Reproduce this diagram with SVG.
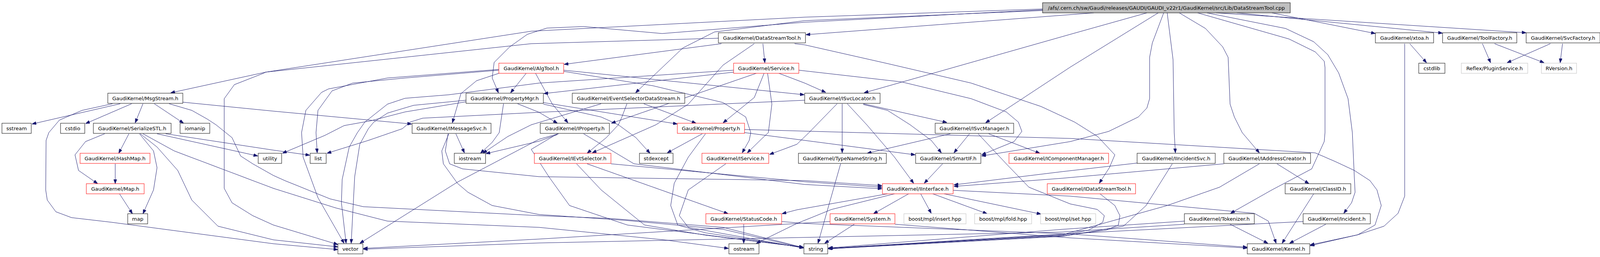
<svg xmlns="http://www.w3.org/2000/svg" width="4097" height="659" viewBox="0 0 4097 659">
<style>
.e{fill:none;stroke:#191970;stroke-width:1;marker-end:url(#ah)}
rect{fill:#fff;stroke:#000;stroke-width:1}
.r rect{stroke:#f00}
.g rect{stroke:#bfbfbf}
.root rect{fill:#bfbfbf}
text{font-family:"DejaVu Sans","Liberation Sans",sans-serif;font-size:13px;text-anchor:middle;fill:#000}
</style>
<defs>
<marker id="ah" markerWidth="11" markerHeight="8" refX="11" refY="4" orient="auto" markerUnits="userSpaceOnUse"><path d="M0,0 L11,4 L0,8 z" fill="#191970" stroke="#191970"/></marker>
</defs>
<rect x="0" y="0" width="4097" height="659" style="fill:#fff;stroke:none"/>
<g id="edges">
<path class="e" d="M2800,33 L2063,89"/>
<path class="e" d="M2936,33 L2740,88 L2212,238"/>
<path class="e" d="M2965,33 L2740,172 L2523,315"/>
<path class="e" d="M2979,33 L2950,110 L2943,147 L2943,253 L2936,277 L2914,300 L2838,337 L2740,363 L2513,400"/>
<path class="e" d="M2988,33 L3003,153 L3006,340 L3009,392"/>
<path class="e" d="M3019,33 L3086,73 L3130,120 L3144,147 L3149,267 L3160,300 L3180,340 L3224,392"/>
<path class="e" d="M3066,33 L3300,100 L3367,133 L3390,157 L3392,173 L3392,340 L3390,363 L3358,433 L3256,487 L3150,547"/>
<path class="e" d="M3090,33 L3291,73 L3363,107 L3399,140 L3427,187 L3451,253 L3462,340 L3467,453 L3469,493 L3460,520 L3440,547"/>
<path class="e" d="M3113,33 L3907,84"/>
<path class="e" d="M3166,33 L3693,85"/>
<path class="e" d="M3256,33 L3521,86"/>
<path class="e" d="M2669,27 L2060,53 L1829,82 L1748,123 L1627,238"/>
<path class="e" d="M2669,25 L2060,57 L1896,70 L1695,86 L1494,68 L1400,72 L1350,88 L1305,120 L1265,160 L1260,200 L1276,238"/>
<path class="e" d="M2669,23 L2060,44 L1360,80 L680,185 L437,238"/>
<path class="e" d="M1839,98 L1360,112 L680,185 L674,188 L600,217 L574,253 L574,483 L594,520 L647,553 L700,577 L733,587 L865,627"/>
<path class="e" d="M1847,112 L1444,165"/>
<path class="e" d="M1953,112 L1958,161"/>
<path class="e" d="M1931,112 L1851,167 L1762,267 L1679,320 L1516,392"/>
<path class="e" d="M2034,112 L2060,115 L2272,163 L2486,213 L2665,273 L2751,313 L2794,340 L2810,350 L2854,397 L2840,430 L2814,470"/>
<path class="e" d="M1277,180 L1037,200 L903,213 L850,233 L814,283 L809,340 L812,392"/>
<path class="e" d="M1277,178 L992,200 L841,228 L823,237 L783,283 L772,340 L776,403 L814,507 L881,624"/>
<path class="e" d="M1277,188 L1220,207 L1180,240 L1158,315"/>
<path class="e" d="M1347,188 L1307,238"/>
<path class="e" d="M1371,188 L1414,267 L1454,315"/>
<path class="e" d="M1443,180 L2059,243"/>
<path class="e" d="M1443,183 L1672,220 L1851,263 L1909,300 L1922,340 L1918,360 L1900,392"/>
<path class="e" d="M1878,185 L1392,240"/>
<path class="e" d="M1878,180 L1380,213 L1149,243 L1037,252 L992,267 L934,313 L915,340 L894,377 L876,460 L874,520 L886,624"/>
<path class="e" d="M1936,188 L1565,316"/>
<path class="e" d="M1956,188 L1931,250 L1851,315"/>
<path class="e" d="M1965,188 L1976,267 L1967,340 L1953,353 L1913,392"/>
<path class="e" d="M1994,188 L2060,213 L2114,237"/>
<path class="e" d="M2045,180 L2308,210 L2486,253 L2576,287 L2607,313 L2616,337 L2596,363 L2513,397"/>
<path class="e" d="M308,266 L82,318"/>
<path class="e" d="M337,266 L219,317"/>
<path class="e" d="M366,266 L346,315"/>
<path class="e" d="M395,266 L470,316"/>
<path class="e" d="M468,262 L700,285 L1054,318"/>
<path class="e" d="M288,266 L210,283 L152,308 L125,340 L118,360 L117,487 L121,513 L143,543 L183,558 L286,570 L700,625 L865,640"/>
<path class="e" d="M433,266 L491,283 L530,305 L553,320 L594,353 L616,400 L647,420 L700,450 L729,463 L845,510 L930,530 L1380,553 L1561,560 L1851,583 L2057,635"/>
<path class="e" d="M268,343 L219,363 L192,397 L201,437 L250,471"/>
<path class="e" d="M330,343 L304,393"/>
<path class="e" d="M357,343 L393,387 L402,430 L393,487 L366,548"/>
<path class="e" d="M359,343 L402,377 L455,437 L491,513 L558,580 L700,615 L865,633"/>
<path class="e" d="M366,343 L446,387 L700,483 L859,533 L992,567 L1380,583 L1700,615 L1865,637"/>
<path class="e" d="M402,343 L660,400"/>
<path class="e" d="M424,343 L700,385 L793,398"/>
<path class="e" d="M295,420 L295,471"/>
<path class="e" d="M306,497 L339,548"/>
<path class="e" d="M1325,266 L1380,288 L1427,316"/>
<path class="e" d="M1391,263 L1734,318"/>
<path class="e" d="M1391,267 L1539,300 L1583,320 L1628,353 L1664,393"/>
<path class="e" d="M1289,266 L1278,340 L1260,365 L1230,393"/>
<path class="e" d="M1193,257 L1059,270 L992,290 L957,313 L943,330 L921,370 L908,453 L899,624"/>
<path class="e" d="M1193,261 L1037,287 L948,310 L881,322 L832,347 L723,393"/>
<path class="e" d="M1539,266 L1360,320 L1300,350 L1236,393"/>
<path class="e" d="M1605,266 L1592,300 L1583,320 L1552,353 L1503,393"/>
<path class="e" d="M1648,266 L1782,316"/>
<path class="e" d="M2143,266 L2071,340 L2040,370 L1970,396"/>
<path class="e" d="M2156,266 L2156,392"/>
<path class="e" d="M2169,266 L2219,320 L2290,403 L2339,470"/>
<path class="e" d="M2210,266 L2424,314"/>
<path class="e" d="M2210,268 L2272,283 L2330,320 L2384,360 L2410,392"/>
<path class="e" d="M2060,257 L1380,288 L1082,303 L1050,313 L1030,330 L943,360 L837,393"/>
<path class="e" d="M2482,343 L2442,392"/>
<path class="e" d="M2531,343 L2662,393"/>
<path class="e" d="M2504,343 L2576,420 L2634,480 L2740,523 L2809,537 L2827,553 L2823,570 L2787,590 L2720,603 L2121,637"/>
<path class="e" d="M2433,343 L2220,393"/>
<path class="e" d="M2413,420 L2366,470"/>
<path class="e" d="M2152,420 L2094,624"/>
<path class="e" d="M2326,497 L2236,548"/>
<path class="e" d="M2357,497 L2384,547"/>
<path class="e" d="M2388,497 L2527,548"/>
<path class="e" d="M2417,497 L2665,549"/>
<path class="e" d="M2440,488 L2740,503 L3211,547 L3247,567 L3267,624"/>
<path class="e" d="M2272,497 L2040,538 L2002,548"/>
<path class="e" d="M2290,497 L2129,537 L2040,573 L1936,624"/>
<path class="e" d="M2187,575 L2111,624"/>
<path class="e" d="M2291,575 L2740,610 L3193,636"/>
<path class="e" d="M2125,568 L1380,613 L930,637"/>
<path class="e" d="M1904,575 L1904,624"/>
<path class="e" d="M2001,568 L2060,573 L2740,600 L3193,634"/>
<path class="e" d="M2816,497 L2854,527 L2867,553 L2863,577 L2832,590 L2720,605 L2120,638"/>
<path class="e" d="M3001,420 L2934,527 L2876,580 L2720,606 L2120,638"/>
<path class="e" d="M3224,420 L3122,480 L2988,527 L2720,602 L2120,637"/>
<path class="e" d="M3269,420 L3351,471"/>
<path class="e" d="M3363,497 L3282,624"/>
<path class="e" d="M3149,575 L3246,624"/>
<path class="e" d="M3032,567 L2720,588 L2120,636"/>
<path class="e" d="M3032,575 L2720,595 L1380,623 L930,639"/>
<path class="e" d="M3394,575 L3301,624"/>
<path class="e" d="M3336,568 L2720,600 L2120,637"/>
<path class="e" d="M3609,112 L3652,161"/>
<path class="e" d="M3596,112 L3596,503 L3579,547 L3543,580 L3476,602 L3354,630"/>
<path class="e" d="M1906,332 L2740,355 L3367,392 L3420,415 L3467,437 L3507,463 L3525,487 L3536,527 L3520,577 L3476,602 L3354,628"/>
<path class="e" d="M3795,112 L3816,161"/>
<path class="e" d="M3826,112 L3953,161"/>
<path class="e" d="M3969,112 L3858,161"/>
<path class="e" d="M4000,112 L3994,161"/>
<path class="e" d="M2912,418 L2720,440 L2442,474"/>
<path class="e" d="M3133,420 L2720,457 L2442,478"/>
<path class="e" d="M1147,343 L1140,387 L1151,420 L1184,433 L1380,453 L2060,463 L2258,476"/>
<path class="e" d="M1149,343 L1131,387 L1135,420 L1171,470 L1198,493 L1260,527 L1380,550 L1600,565 L1851,588 L2057,636"/>
<path class="e" d="M1167,343 L1189,392"/>
<path class="e" d="M1503,420 L1864,548"/>
<path class="e" d="M1476,420 L1539,487 L1650,577 L1806,603 L2057,634"/>
<path class="e" d="M1564,420 L2060,466 L2258,480"/>
<path class="e" d="M1427,343 L1360,383 L1405,453 L1458,527 L1606,577 L2057,634"/>
<path class="e" d="M1430,343 L1380,357 L1171,467 L921,624"/>
<path class="e" d="M1494,343 L1623,420 L2060,473 L2258,484"/>
<path class="e" d="M1427,345 L1380,362 L1244,394"/>
<path class="e" d="M1798,343 L1708,392"/>
<path class="e" d="M1806,343 L1762,403 L1726,470 L1717,527 L1735,577 L1806,597 L2057,635"/>
<path class="e" d="M1906,340 L2060,360 L2343,397"/>
<path class="e" d="M1858,420 L1762,487 L1739,553 L1762,583 L2057,636"/>
</g>
<g id="root" class="root"><rect x="2669" y="7" width="634" height="26"/><text x="2986" y="25">/afs/.cern.ch/sw/Gaudi/releases/GAUDI/GAUDI_v22r1/GaudiKernel/src/Lib/DataStreamTool.cpp</text></g>
<g id="dst"><rect x="1839" y="84" width="223" height="26"/><text x="1950.5" y="102">GaudiKernel/DataStreamTool.h</text></g>
<g id="xtoa"><rect x="3521" y="84" width="149" height="26"/><text x="3595.5" y="102">GaudiKernel/xtoa.h</text></g>
<g id="toolfactory"><rect x="3693" y="84" width="190" height="26"/><text x="3788" y="102">GaudiKernel/ToolFactory.h</text></g>
<g id="svcfactory"><rect x="3907" y="84" width="189" height="26"/><text x="4001.5" y="102">GaudiKernel/SvcFactory.h</text></g>
<g id="algtool" class="r"><rect x="1277" y="162" width="166" height="26"/><text x="1360" y="180">GaudiKernel/AlgTool.h</text></g>
<g id="service" class="r"><rect x="1878" y="162" width="167" height="26"/><text x="1961.5" y="180">GaudiKernel/Service.h</text></g>
<g id="cstdlib"><rect x="3632" y="162" width="67" height="26"/><text x="3665.5" y="180">cstdlib</text></g>
<g id="pluginservice" class="g"><rect x="3741" y="162" width="170" height="26"/><text x="3826" y="180">Reflex/PluginService.h</text></g>
<g id="rversion" class="g"><rect x="3946" y="162" width="90" height="26"/><text x="3991" y="180">RVersion.h</text></g>
<g id="msgstream"><rect x="276" y="239" width="192" height="26"/><text x="372" y="257">GaudiKernel/MsgStream.h</text></g>
<g id="propertymgr"><rect x="1193" y="239" width="198" height="26"/><text x="1292" y="257">GaudiKernel/PropertyMgr.h</text></g>
<g id="esds"><rect x="1465" y="239" width="288" height="26"/><text x="1609" y="257">GaudiKernel/EventSelectorDataStream.h</text></g>
<g id="isvclocator"><rect x="2060" y="239" width="193" height="26"/><text x="2156.5" y="257">GaudiKernel/ISvcLocator.h</text></g>
<g id="sstream"><rect x="5" y="316" width="75" height="26"/><text x="42.5" y="334">sstream</text></g>
<g id="cstdio"><rect x="155" y="316" width="62" height="26"/><text x="186" y="334">cstdio</text></g>
<g id="serializestl"><rect x="239" y="316" width="199" height="26"/><text x="338.5" y="334">GaudiKernel/SerializeSTL.h</text></g>
<g id="iomanip"><rect x="461" y="316" width="76" height="26"/><text x="499" y="334">iomanip</text></g>
<g id="imessagesvc"><rect x="1055" y="316" width="202" height="26"/><text x="1156" y="334">GaudiKernel/IMessageSvc.h</text></g>
<g id="iproperty"><rect x="1383" y="316" width="177" height="26"/><text x="1471.5" y="334">GaudiKernel/IProperty.h</text></g>
<g id="property" class="r"><rect x="1734" y="316" width="172" height="26"/><text x="1820" y="334">GaudiKernel/Property.h</text></g>
<g id="isvcmanager"><rect x="2394" y="316" width="201" height="26"/><text x="2494.5" y="334">GaudiKernel/ISvcManager.h</text></g>
<g id="hashmap" class="r"><rect x="205" y="393" width="179" height="26"/><text x="294.5" y="411">GaudiKernel/HashMap.h</text></g>
<g id="utility"><rect x="661" y="393" width="60" height="26"/><text x="691" y="411">utility</text></g>
<g id="list"><rect x="794" y="393" width="41" height="26"/><text x="814.5" y="411">list</text></g>
<g id="iostream"><rect x="1163" y="393" width="80" height="26"/><text x="1203" y="411">iostream</text></g>
<g id="ievtselector" class="r"><rect x="1368" y="393" width="196" height="26"/><text x="1466" y="411">GaudiKernel/IEvtSelector.h</text></g>
<g id="stdexcept"><rect x="1637" y="393" width="86" height="26"/><text x="1680" y="411">stdexcept</text></g>
<g id="iservice" class="r"><rect x="1797" y="393" width="171" height="26"/><text x="1882.5" y="411">GaudiKernel/IService.h</text></g>
<g id="typenamestring"><rect x="2044" y="393" width="225" height="26"/><text x="2156.5" y="411">GaudiKernel/TypeNameString.h</text></g>
<g id="smartif"><rect x="2344" y="393" width="167" height="26"/><text x="2427.5" y="411">GaudiKernel/SmartIF.h</text></g>
<g id="icomponentmanager" class="r"><rect x="2583" y="393" width="255" height="26"/><text x="2710.5" y="411">GaudiKernel/IComponentManager.h</text></g>
<g id="iincidentsvc"><rect x="2911" y="393" width="200" height="26"/><text x="3011" y="411">GaudiKernel/IIncidentSvc.h</text></g>
<g id="iaddresscreator"><rect x="3133" y="393" width="222" height="26"/><text x="3244" y="411">GaudiKernel/IAddressCreator.h</text></g>
<g id="maph" class="r"><rect x="221" y="471" width="148" height="26"/><text x="295" y="489">GaudiKernel/Map.h</text></g>
<g id="iinterface" class="r"><rect x="2259" y="471" width="181" height="26"/><text x="2349.5" y="489">GaudiKernel/IInterface.h</text></g>
<g id="idatastreamtool" class="r"><rect x="2681" y="471" width="226" height="26"/><text x="2794" y="489">GaudiKernel/IDataStreamTool.h</text></g>
<g id="classid"><rect x="3290" y="471" width="168" height="26"/><text x="3374" y="489">GaudiKernel/ClassID.h</text></g>
<g id="map"><rect x="327" y="548" width="51" height="26"/><text x="352.5" y="566">map</text></g>
<g id="statuscode" class="r"><rect x="1807" y="548" width="194" height="26"/><text x="1904" y="566">GaudiKernel/StatusCode.h</text></g>
<g id="system" class="r"><rect x="2125" y="548" width="166" height="26"/><text x="2208" y="566">GaudiKernel/System.h</text></g>
<g id="insert" class="g"><rect x="2314" y="548" width="159" height="26"/><text x="2393.5" y="566">boost/mpl/insert.hpp</text></g>
<g id="fold" class="g"><rect x="2495" y="548" width="146" height="26"/><text x="2568" y="566">boost/mpl/fold.hpp</text></g>
<g id="set" class="g"><rect x="2664" y="548" width="141" height="26"/><text x="2734.5" y="566">boost/mpl/set.hpp</text></g>
<g id="tokenizer"><rect x="3032" y="548" width="179" height="26"/><text x="3121.5" y="566">GaudiKernel/Tokenizer.h</text></g>
<g id="incident"><rect x="3336" y="548" width="172" height="26"/><text x="3422" y="566">GaudiKernel/Incident.h</text></g>
<g id="vector"><rect x="865" y="625" width="64" height="26"/><text x="897" y="643">vector</text></g>
<g id="ostream"><rect x="1866" y="625" width="77" height="26"/><text x="1904.5" y="643">ostream</text></g>
<g id="string"><rect x="2058" y="625" width="61" height="26"/><text x="2088.5" y="643">string</text></g>
<g id="kernel"><rect x="3193" y="625" width="160" height="26"/><text x="3273" y="643">GaudiKernel/Kernel.h</text></g>
</svg>
